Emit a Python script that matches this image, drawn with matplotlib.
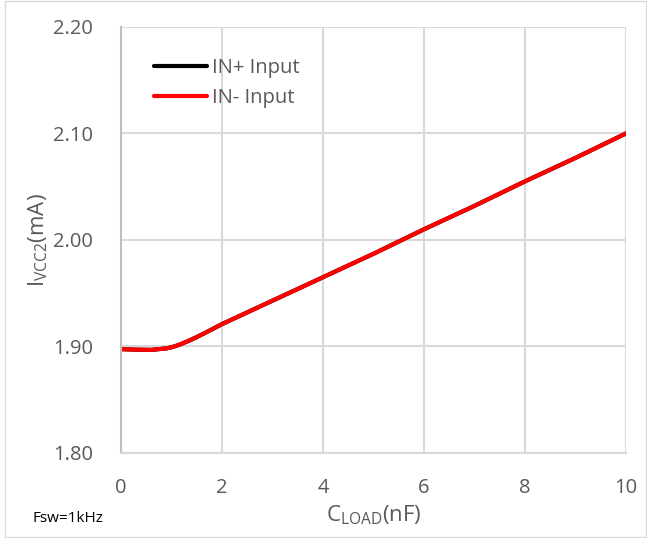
import matplotlib.pyplot as plt
from matplotlib.patches import Rectangle

# data
c_load = [0, 0.3, 0.6, 0.9, 1.0, 1.1, 1.2, 1.35, 1.5, 1.75, 2, 3, 4, 5, 6, 7, 8, 9, 10]
i_in_plus = [1.8975, 1.897, 1.8968, 1.8982, 1.8993, 1.9007, 1.9025, 1.9055, 1.9088, 1.9148, 1.921,
             1.943, 1.965, 1.987, 2.010, 2.032, 2.055, 2.077, 2.100]
i_in_minus = [1.8975, 1.897, 1.8968, 1.8982, 1.8993, 1.9007, 1.9025, 1.9055, 1.9088, 1.9148, 1.921,
              1.943, 1.965, 1.987, 2.010, 2.032, 2.055, 2.077, 2.100]
x_ticks = [0, 2, 4, 6, 8, 10]
y_ticks = [1.80, 1.90, 2.00, 2.10, 2.20]

plt.rcParams['font.family'] = ['Open Sans', 'DejaVu Sans']
txt = '#595959'

fig = plt.figure(figsize=(6.47, 5.38), dpi=100)
ax = fig.add_axes([0.187, 0.158, 0.7805, 0.792])

ax.plot(c_load, i_in_plus, color='black', lw=3, label='IN+ Input', solid_capstyle='round')
ax.plot(c_load, i_in_minus, color='#ff0000', lw=3, label='IN- Input', solid_capstyle='round')

ax.set_xlim(0, 10)
ax.set_ylim(1.80, 2.20)
ax.set_xticks(x_ticks)
ax.set_yticks(y_ticks)
ax.set_yticklabels([f'{v:.2f}' for v in y_ticks])
ax.tick_params(length=0, labelsize=14.5, colors=txt, pad=20)
ax.tick_params(axis='x', pad=18)
ax.grid(True, color='#d9d9d9', lw=1.5)
ax.set_axisbelow(True)
for s in ['top', 'right']:
    ax.spines[s].set_visible(False)
ax.spines['left'].set_color('#bfbfbf')
ax.spines['left'].set_linewidth(1.5)
ax.spines['bottom'].set_color('#d9d9d9')
ax.spines['bottom'].set_linewidth(1.5)

ax.set_ylabel(r'I$_{\mathregular{VCC2}}$(mA)', fontsize=16, color=txt, labelpad=2)
ax.set_xlabel(r'C$_{\mathregular{LOAD}}$(nF)', fontsize=16, color=txt, labelpad=4)

leg = ax.legend(loc='upper left', bbox_to_anchor=(0.03, 0.97), frameon=False,
                fontsize=14.5, handlelength=2.6, handletextpad=0.25, labelspacing=0.5)
for t in leg.get_texts():
    t.set_color(txt)

fig.text(0.05, 0.03, 'Fsw=1kHz', fontsize=11, color='black')
fig.patches.append(Rectangle((0.008, 0.002), 0.99, 0.996, transform=fig.transFigure,
                             fill=False, edgecolor='#d9d9d9', lw=1))

fig.savefig('out.png', dpi=100)
